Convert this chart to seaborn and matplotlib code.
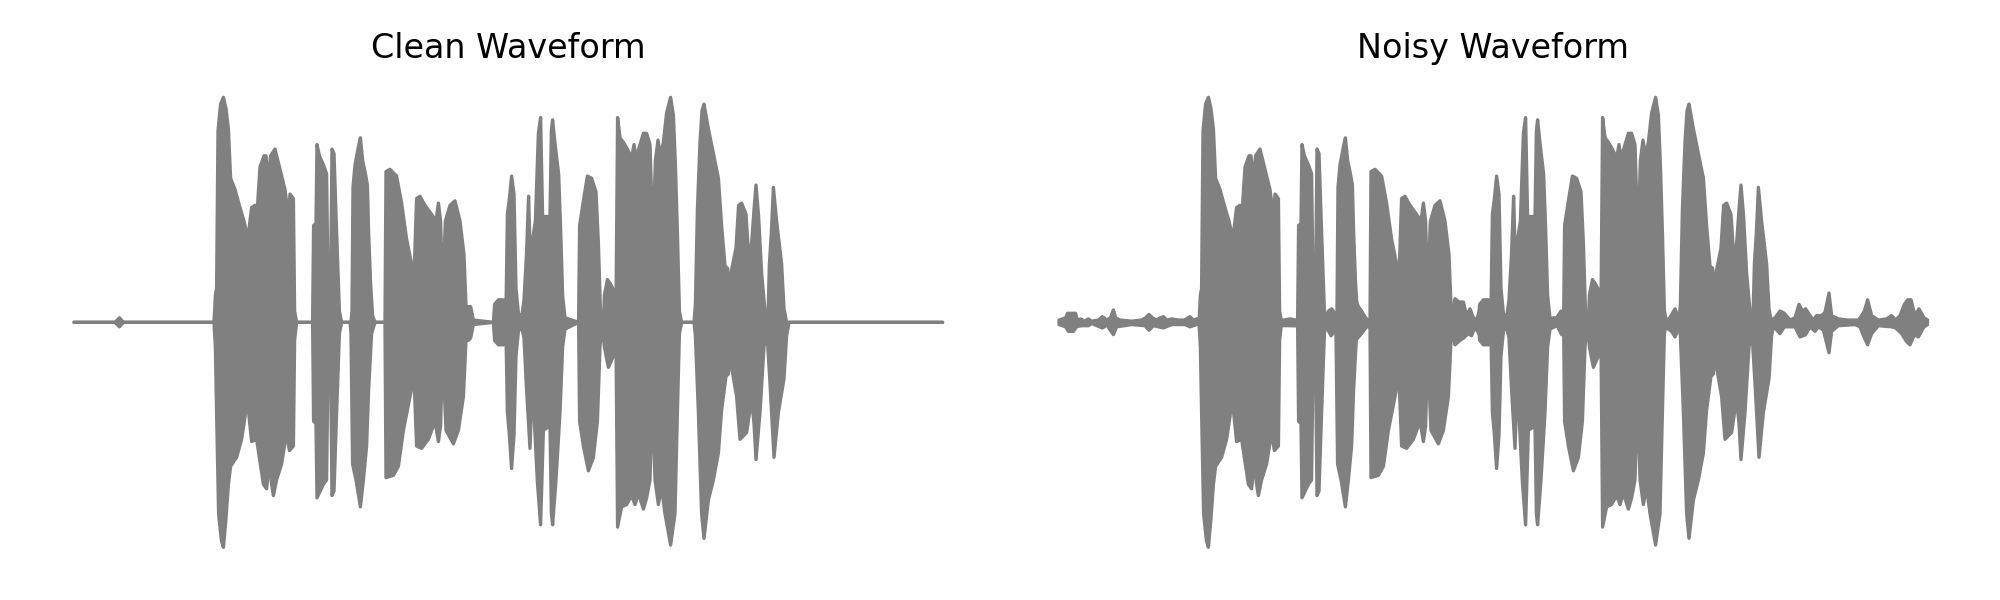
import numpy as np
import seaborn as sns
import matplotlib.pyplot as plt

# Amplitude envelope of the clean recording (time in s, normalised amplitude)
clean_top_t = [0.000, 0.205, 0.227, 0.247, 0.700, 0.707, 0.713, 0.720, 0.733, 0.747, 0.760, 0.772, 0.783, 0.805,
               0.830, 0.850, 0.867, 0.873, 0.888, 0.905, 0.917, 0.930, 0.950, 0.960, 0.972, 0.983, 1.005, 1.030,
               1.055, 1.072, 1.080, 1.097, 1.103, 1.113, 1.193, 1.198, 1.210, 1.215, 1.227, 1.247, 1.263, 1.270,
               1.283, 1.290, 1.300, 1.313, 1.327, 1.338, 1.385, 1.390, 1.395, 1.405, 1.422, 1.432, 1.443, 1.455,
               1.467, 1.473, 1.483, 1.493, 1.505, 1.555, 1.560, 1.580, 1.613, 1.638, 1.663, 1.690, 1.700, 1.713,
               1.730, 1.755, 1.788, 1.810, 1.822, 1.833, 1.843, 1.857, 1.880, 1.905, 1.930, 1.950, 1.960, 1.973,
               1.983, 1.997, 2.097, 2.103, 2.122, 2.147, 2.160, 2.167, 2.177, 2.188, 2.200, 2.210, 2.222, 2.238,
               2.250, 2.263, 2.273, 2.280, 2.293, 2.307, 2.322, 2.333, 2.343, 2.380, 2.387, 2.393, 2.407, 2.423,
               2.433, 2.443, 2.455, 2.523, 2.528, 2.547, 2.567, 2.588, 2.610, 2.622, 2.633, 2.647, 2.652, 2.667,
               2.683, 2.700, 2.710, 2.718, 2.730, 2.747, 2.767, 2.788, 2.800, 2.810, 2.827, 2.847, 2.863, 2.880,
               2.890, 2.897, 2.907, 2.920, 2.933, 2.947, 2.963, 2.983, 2.997, 3.007, 3.017, 3.027, 3.038, 3.100,
               3.107, 3.117, 3.130, 3.140, 3.150, 3.172, 3.197, 3.222, 3.238, 3.255, 3.268, 3.277, 3.285, 3.310,
               3.323, 3.338, 3.360, 3.373, 3.388, 3.400, 3.410, 3.423, 3.438, 3.455, 3.470, 3.477, 3.487, 3.497,
               3.513, 3.538, 3.550, 3.563, 4.343]
clean_top_a = [0, 0, 0.02, 0, 0, 0.12, 0.15, 0.85, 0.97, 1.00, 0.95, 0.86, 0.64, 0.59,
               0.51, 0.45, 0.38, 0.40, 0.51, 0.52, 0.51, 0.69, 0.74, 0.74, 0.63, 0.74, 0.77, 0.68,
               0.59, 0.47, 0.57, 0.55, 0.05, 0, 0, 0.43, 0.44, 0.79, 0.74, 0.70, 0.66, 0.17,
               0.16, 0.77, 0.75, 0.40, 0.05, 0, 0, 0.05, 0.60, 0.70, 0.78, 0.82, 0.72, 0.67,
               0.61, 0.40, 0.17, 0.03, 0, 0, 0.67, 0.68, 0.65, 0.53, 0.37, 0.25, 0.20, 0.55,
               0.56, 0.52, 0.48, 0.45, 0.53, 0.45, 0.13, 0.45, 0.52, 0.54, 0.45, 0.30, 0.07, 0.07,
               0.07, 0.01, 0, 0.08, 0.10, 0.10, 0.05, 0.48, 0.55, 0.65, 0.57, 0.15, 0.04, 0.02,
               0.10, 0.31, 0.56, 0.33, 0.37, 0.45, 0.84, 0.91, 0.47, 0.47, 0.85, 0.90, 0.78, 0.66,
               0.42, 0.12, 0.02, 0, 0.43, 0.54, 0.65, 0.64, 0.58, 0.35, 0.03, 0, 0.12, 0.19,
               0.17, 0.14, 0.06, 0.91, 0.82, 0.80, 0.77, 0.73, 0.79, 0.73, 0.78, 0.84, 0.84, 0.79,
               0.50, 0.42, 0.72, 0.81, 0.74, 0.80, 0.93, 1.00, 0.92, 0.70, 0.40, 0.05, 0, 0,
               0.08, 0.50, 0.80, 0.94, 0.97, 0.86, 0.75, 0.64, 0.43, 0.25, 0.24, 0.04, 0.22, 0.33,
               0.52, 0.53, 0.48, 0.30, 0.35, 0.50, 0.61, 0.47, 0.22, 0.05, 0.02, 0.26, 0.40, 0.60,
               0.45, 0.26, 0.06, 0, 0]

clean_bot_t = [0.000, 0.205, 0.227, 0.247, 0.700, 0.707, 0.713, 0.723, 0.737, 0.747, 0.760, 0.772, 0.783, 0.813,
               0.838, 0.855, 0.867, 0.873, 0.888, 0.913, 0.930, 0.947, 0.963, 0.977, 0.988, 0.997, 1.013, 1.038,
               1.063, 1.077, 1.097, 1.103, 1.113, 1.193, 1.198, 1.210, 1.215, 1.247, 1.263, 1.270, 1.283, 1.290,
               1.300, 1.313, 1.327, 1.338, 1.380, 1.385, 1.393, 1.410, 1.432, 1.447, 1.463, 1.473, 1.488, 1.505,
               1.555, 1.560, 1.597, 1.622, 1.647, 1.680, 1.700, 1.713, 1.738, 1.772, 1.805, 1.822, 1.833, 1.843,
               1.860, 1.897, 1.922, 1.947, 1.960, 1.973, 1.983, 1.997, 2.097, 2.103, 2.122, 2.147, 2.160, 2.167,
               2.177, 2.188, 2.200, 2.210, 2.222, 2.238, 2.250, 2.263, 2.280, 2.288, 2.300, 2.317, 2.333, 2.347,
               2.380, 2.387, 2.393, 2.410, 2.430, 2.443, 2.455, 2.523, 2.528, 2.547, 2.572, 2.597, 2.617, 2.630,
               2.640, 2.652, 2.672, 2.697, 2.710, 2.718, 2.738, 2.763, 2.788, 2.805, 2.822, 2.847, 2.863, 2.880,
               2.893, 2.905, 2.922, 2.937, 2.955, 2.983, 3.005, 3.017, 3.027, 3.038, 3.100, 3.107, 3.122, 3.138,
               3.150, 3.172, 3.197, 3.222, 3.238, 3.260, 3.272, 3.280, 3.288, 3.313, 3.330, 3.363, 3.388, 3.400,
               3.410, 3.430, 3.450, 3.463, 3.480, 3.500, 3.522, 3.550, 3.563, 3.575, 4.343]
clean_bot_a = [0, 0, -0.02, 0, 0, -0.11, -0.40, -0.85, -0.97, -1.00, -0.87, -0.72, -0.64, -0.60,
               -0.52, -0.42, -0.30, -0.40, -0.53, -0.52, -0.62, -0.72, -0.74, -0.62, -0.72, -0.77, -0.70, -0.63,
               -0.49, -0.57, -0.55, -0.08, 0, 0, -0.44, -0.45, -0.78, -0.72, -0.70, -0.17, -0.17, -0.77,
               -0.75, -0.40, -0.05, 0, 0, -0.05, -0.63, -0.70, -0.82, -0.70, -0.55, -0.30, -0.05, 0,
               0, -0.69, -0.68, -0.64, -0.48, -0.33, -0.24, -0.55, -0.56, -0.52, -0.44, -0.53, -0.46, -0.13,
               -0.48, -0.54, -0.48, -0.33, -0.08, -0.08, -0.07, -0.01, 0, -0.08, -0.10, -0.10, -0.05, -0.40,
               -0.50, -0.65, -0.50, -0.15, -0.04, -0.02, -0.07, -0.30, -0.56, -0.35, -0.41, -0.71, -0.90, -0.48,
               -0.46, -0.85, -0.90, -0.70, -0.40, -0.11, -0.03, 0, -0.44, -0.55, -0.66, -0.60, -0.44, -0.11,
               0, -0.11, -0.20, -0.15, -0.08, -0.91, -0.82, -0.81, -0.77, -0.81, -0.76, -0.83, -0.78, -0.70,
               -0.33, -0.70, -0.81, -0.73, -0.85, -0.99, -0.85, -0.40, -0.05, 0, 0, -0.06, -0.40, -0.85,
               -0.96, -0.79, -0.70, -0.58, -0.39, -0.24, -0.23, -0.08, -0.20, -0.33, -0.52, -0.49, -0.34, -0.45,
               -0.61, -0.40, -0.11, -0.02, -0.27, -0.60, -0.40, -0.25, -0.06, 0, 0]

# Background noise envelope added in the noisy recording
noise_top_t = [0.000, 0.033, 0.043, 0.063, 0.083, 0.092, 0.110, 0.127, 0.147, 0.163, 0.197, 0.217, 0.230, 0.257,
               0.272, 0.283, 0.305, 0.363, 0.413, 0.433, 0.450, 0.467, 0.488, 0.505, 0.522, 0.538, 0.563, 0.597,
               0.627, 0.655, 0.672, 0.688, 1.122, 1.155, 1.188, 1.330, 1.347, 1.363, 1.388, 1.483, 1.497, 1.513,
               1.533, 1.547, 1.963, 1.980, 2.000, 2.022, 2.038, 2.055, 2.072, 2.088, 2.105, 2.163, 2.222, 2.238,
               2.455, 2.472, 2.488, 2.510, 2.523, 2.642, 3.030, 3.047, 3.067, 3.080, 3.093, 3.105, 3.563, 3.580,
               3.605, 3.627, 3.655, 3.680, 3.700, 3.717, 3.733, 3.755, 3.772, 3.788, 3.813, 3.830, 3.850, 3.863,
               3.897, 3.947, 3.997, 4.013, 4.027, 4.043, 4.063, 4.097, 4.138, 4.163, 4.183, 4.205, 4.227, 4.243,
               4.260, 4.280, 4.300, 4.325, 4.343]
noise_top_a = [0.01, 0.02, 0.04, 0.04, 0.04, 0.01, 0.015, 0.005, 0.015, 0.005, 0.01, 0.025, 0.005, 0.02,
               0.055, 0.02, 0.01, 0.005, 0.01, 0.02, 0.035, 0.02, 0.01, 0.02, 0.025, 0.01, 0.015, 0.01,
               0.01, 0.025, 0.01, 0.015, 0.01, 0.015, 0.01, 0.01, 0.05, 0.06, 0.03, 0.10, 0.07, 0.05,
               0.02, 0.01, 0.04, 0.105, 0.09, 0.09, 0.03, 0.06, 0.02, 0.01, 0.06, 0.05, 0.01, 0.02,
               0.01, 0.02, 0.02, 0.05, 0.02, 0.01, 0.02, 0.01, 0.04, 0.06, 0.03, 0.04, 0.01, 0.02,
               0.05, 0.04, 0.01, 0.02, 0.08, 0.05, 0.06, 0.03, 0.01, 0.03, 0.03, 0.045, 0.13, 0.03,
               0.015, 0.01, 0.01, 0.03, 0.05, 0.10, 0.03, 0.01, 0.015, 0.03, 0.01, 0.03, 0.08, 0.10,
               0.10, 0.03, 0.06, 0.02, 0.01]

noise_bot_t = [0.000, 0.033, 0.047, 0.072, 0.088, 0.110, 0.147, 0.163, 0.217, 0.238, 0.272, 0.288, 0.363, 0.430,
               0.450, 0.472, 0.522, 0.563, 0.630, 0.655, 0.688, 1.155, 1.338, 1.360, 1.388, 1.483, 1.513, 1.538,
               1.963, 1.980, 2.005, 2.022, 2.047, 2.063, 2.080, 2.105, 2.163, 2.222, 2.455, 2.488, 2.513, 2.523,
               3.030, 3.063, 3.080, 3.097, 3.563, 3.605, 3.627, 3.680, 3.705, 3.733, 3.755, 3.780, 3.797, 3.822,
               3.850, 3.863, 3.897, 3.980, 4.005, 4.020, 4.043, 4.063, 4.097, 4.163, 4.183, 4.213, 4.237, 4.255,
               4.277, 4.297, 4.325, 4.343]
noise_bot_a = [-0.01, -0.02, -0.04, -0.04, -0.02, -0.015, -0.015, -0.005, -0.025, -0.01, -0.055, -0.02, -0.01, -0.015,
               -0.035, -0.015, -0.025, -0.01, -0.01, -0.02, -0.01, -0.015, -0.02, -0.06, -0.03, -0.08, -0.05, -0.02,
               -0.05, -0.10, -0.08, -0.07, -0.05, -0.06, -0.02, -0.06, -0.05, -0.02, -0.01, -0.01, -0.055, -0.02,
               -0.02, -0.04, -0.065, -0.03, -0.01, -0.05, -0.02, -0.02, -0.065, -0.055, -0.02, -0.04, -0.02, -0.035,
               -0.135, -0.04, -0.015, -0.01, -0.02, -0.055, -0.10, -0.05, -0.015, -0.02, -0.025, -0.05, -0.085, -0.10,
               -0.055, -0.065, -0.02, -0.01]

WAVE = 'gray'


def draw_envelope(ax, top_t, top_a, bot_t, bot_a):
    for t, a in [(top_t, top_a), (bot_t, bot_a)]:
        sns.lineplot(x=t, y=a, ax=ax, color=WAVE, lw=1.2, estimator=None, sort=False,
                     solid_joinstyle='round', solid_capstyle='round', clip_on=False)
    ax.fill(np.r_[top_t, bot_t[::-1]], np.r_[top_a, bot_a[::-1]], color=WAVE, lw=0, clip_on=False)


fig, axes = plt.subplots(1, 2, figsize=(10, 3), dpi=200)

draw_envelope(axes[0], clean_top_t, clean_top_a, clean_bot_t, clean_bot_a)
draw_envelope(axes[1], clean_top_t, clean_top_a, clean_bot_t, clean_bot_a)
draw_envelope(axes[1], noise_top_t, noise_top_a, noise_bot_t, noise_bot_a)

for ax, title, left in zip(axes, ['Clean Waveform', 'Noisy Waveform'], [0.037, 0.5295]):
    ax.set_xlim(0, clean_top_t[-1])
    ax.set_ylim(-1, 1)
    ax.set_position([left, 0.0878, 0.4343, 0.75])
    ax.set_title(title, fontsize=12, pad=14)
    ax.axis('off')

plt.savefig('out.png', dpi=200)
plt.close()
